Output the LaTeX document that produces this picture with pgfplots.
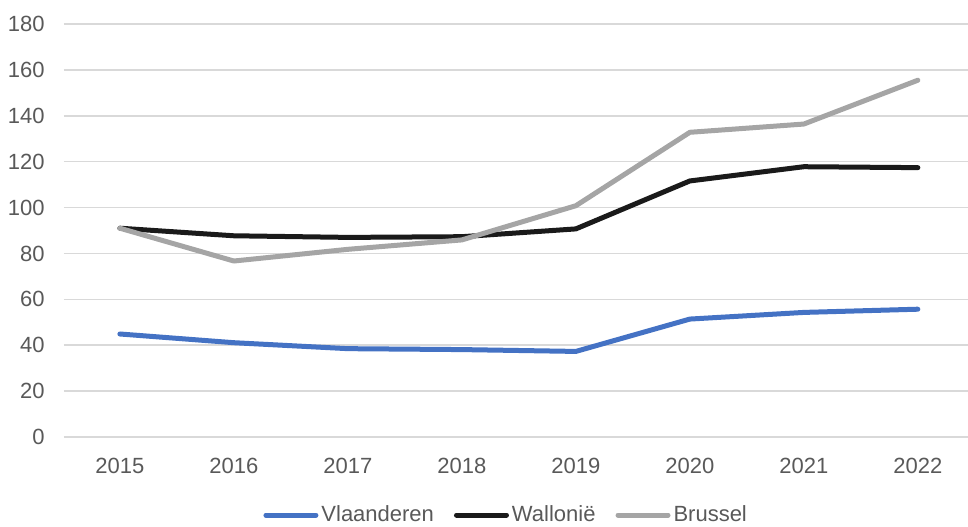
\documentclass[border=0pt]{standalone}
\usepackage{fontspec}
\setmainfont{Liberation Sans}
\usepackage{pgfplots}
\pgfplotsset{compat=1.18}

\definecolor{vlblue}{HTML}{4472C4}
\definecolor{walblack}{HTML}{1A1A1A}
\definecolor{brugray}{HTML}{A5A5A5}
\definecolor{gridgray}{HTML}{D9D9D9}
\definecolor{txtgray}{HTML}{595959}

\begin{document}
\begin{tikzpicture}
\begin{axis}[
  at={(32pt,44.5pt)}, anchor=south west,
  scale only axis,
  width=452pt, height=206.5pt,
  xmin=-0.49, xmax=7.44,
  ymin=0, ymax=180,
  ytick={0,20,...,180},
  xtick={0,...,7},
  xticklabels={2015,2016,2017,2018,2019,2020,2021,2022},
  axis line style={draw=none},
  major tick length=0pt,
  ymajorgrids,
  grid style={gridgray, line width=0.75pt},
  /pgf/number format/assume math mode=true,
  tick label style={font=\fontsize{11}{13}\selectfont, text=txtgray},
  yticklabel style={anchor=east, inner sep=0pt, xshift=-9.5pt},
  xticklabel style={anchor=north, inner sep=0pt, yshift=-10.5pt},
  legend columns=3,
  legend style={
    at={(axis description cs:0.488,-0.189)}, anchor=center,
    draw=none, fill=none,
    font=\fontsize{11}{13}\selectfont, text=txtgray,
    inner sep=0pt,
    nodes={inner sep=0pt},
    /tikz/every odd column/.append style={column sep=1.5pt},
    /tikz/every even column/.append style={column sep=10pt},
  },
  legend cell align=left,
  legend image code/.code={\draw[#1, line cap=round] (1.25pt,0pt) -- (26.25pt,0pt);},
  every axis plot/.append style={line width=2.5pt, line join=round, line cap=round},
]
\addplot[vlblue] coordinates {
  (0,44.9) (1,41.1) (2,38.5) (3,38.1) (4,37.3) (5,51.4) (6,54.3) (7,55.7)
};
\addlegendentry{Vlaanderen}
\addplot[walblack] coordinates {
  (0,91.0) (1,87.7) (2,87.0) (3,87.3) (4,90.7) (5,111.6) (6,117.8) (7,117.4)
};
\addlegendentry{Wallonië}
\addplot[brugray] coordinates {
  (0,91.0) (1,76.7) (2,81.8) (3,85.9) (4,100.8) (5,132.8) (6,136.4) (7,155.5)
};
\addlegendentry{Brussel}
\end{axis}
\pgfresetboundingbox
\path[use as bounding box] (0,0) rectangle (484pt,263pt);
\end{tikzpicture}
\end{document}
